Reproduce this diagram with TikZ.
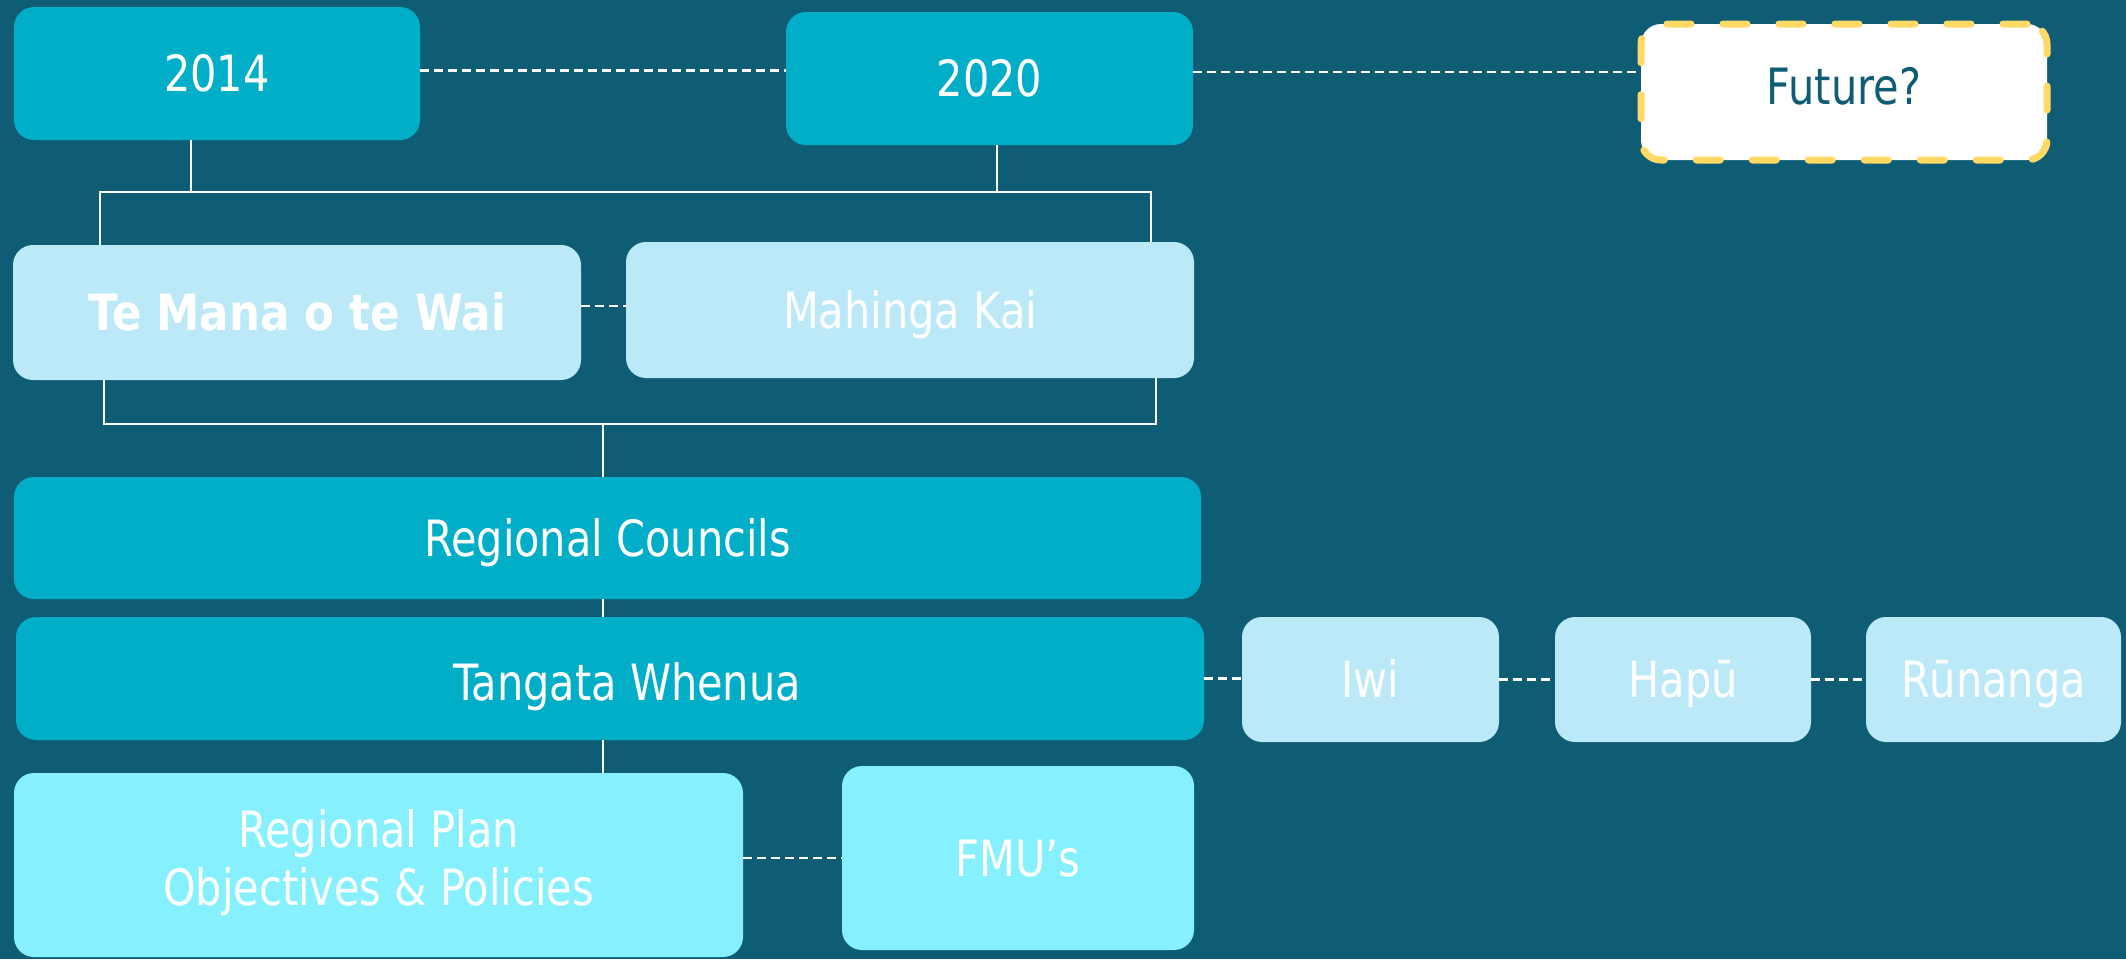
\documentclass[tikz,border=0pt]{standalone}
\usepackage{fontspec}
\setmainfont{DejaVu Sans}[FakeStretch=0.83]
\newfontfamily\boldf{DejaVu Sans Bold}[FakeStretch=0.87]
\definecolor{bgc}{RGB}{14,93,117}
\definecolor{darkbox}{RGB}{0,174,199}
\definecolor{lightbox}{RGB}{188,233,247}
\definecolor{cyanbox}{RGB}{134,240,255}
\definecolor{futyellow}{RGB}{255,217,102}
\begin{document}
\begin{tikzpicture}[x=1pt,y=-1pt,
  box/.style={rectangle, rounded corners=20pt, inner sep=0pt, text=white,
    font=\fontsize{50}{58}\selectfont, align=center, text height=36pt, text depth=0pt},
  darkb/.style={box, fill=darkbox},
  lightb/.style={box, fill=lightbox},
  cyanb/.style={box, fill=cyanbox},
  futb/.style={box, fill=white, draw=futyellow, line width=7pt, dash pattern=on 24pt off 32pt, line cap=round, text=bgc},
  conn/.style={draw=white, line width=1.5pt},
  dconn/.style={draw=white, line width=2.5pt, dash pattern=on 9pt off 5pt}
]
\fill[bgc] (0,0) rectangle (2126,959);
\useasboundingbox (0,0) rectangle (2126,959);

% nodes
\node[darkb, minimum width=406pt, minimum height=133pt] (y2014) at (217,73.5) {2014};
\node[darkb, minimum width=407pt, minimum height=133pt] (y2020) at (989.5,78.5) {2020};
\node[futb, minimum width=406pt, minimum height=136pt, text depth=12pt] (fut) at (1844,92) {Future?};

\node[lightb, minimum width=568pt, minimum height=135pt] (tmw) at (297,312.5) {\boldf Te Mana o te Wai};
\node[lightb, minimum width=568pt, minimum height=136pt] (mk) at (910,310) {Mahinga Kai};

\node[darkb, minimum width=1187pt, minimum height=122pt] (rc) at (607.5,538) {Regional Councils};
\node[darkb, minimum width=1188pt, minimum height=123pt, text height=44pt] (tw) at (610,678.5) {\hspace*{34pt}Tangata Whenua};

\node[lightb, minimum width=257pt, minimum height=125pt] (iwi) at (1370.5,679.5) {Iwi};
\node[lightb, minimum width=256pt, minimum height=125pt] (hapu) at (1683,679.5) {Hapū};
\node[lightb, minimum width=255pt, minimum height=125pt] (run) at (1993.5,679.5) {Rūnanga};

\node[cyanb, minimum width=729pt, minimum height=184pt, text height=94pt, text depth=14pt] (rp) at (378.5,865) {Regional Plan\\Objectives \& Policies};
\node[cyanb, minimum width=352pt, minimum height=184pt] (fmu) at (1018,858) {FMU’s};

% helper coordinates
\coordinate (d1) at (0,70.5);
\coordinate (d2) at (0,72);
\coordinate (d3) at (0,306);
\coordinate (a1) at (191,192);
\coordinate (a2) at (997,192);
\coordinate (tbL) at (100,192);
\coordinate (tbR) at (1151,192);
\coordinate (bbL) at (104,424);
\coordinate (bbR) at (1156,424);
\coordinate (bbC) at (603,424);

% dashed connectors
\draw[dconn] (y2014.east |- d1) -- (y2020.west |- d1);
\draw[dconn] (y2020.east |- d2) -- (fut.west |- d2);
\draw[dconn] (tmw.east |- d3) -- (mk.west |- d3);
\draw[dconn] (tw.east) -- (tw.east -| iwi.west);
\draw[dconn] (iwi.east) -- (hapu.west);
\draw[dconn] (hapu.east) -- (run.west);
\draw[dconn] (fmu.west -| rp.east) -- (fmu.west);

% solid connectors
\draw[conn] (a1 |- y2014.south) -- (a1);
\draw[conn] (a2 |- y2020.south) -- (a2);
\draw[conn] (tbL |- tmw.north) -- (tbL) -- (tbR) -- (tbR |- mk.north);
\draw[conn] (bbL |- tmw.south) -- (bbL) -- (bbR) -- (bbR |- mk.south);
\draw[conn] (bbC) -- (bbC |- rc.north);
\draw[conn] (rc.south -| bbC) -- (tw.north -| bbC);
\draw[conn] (tw.south -| bbC) -- (rp.north -| bbC);
\end{tikzpicture}
\end{document}
